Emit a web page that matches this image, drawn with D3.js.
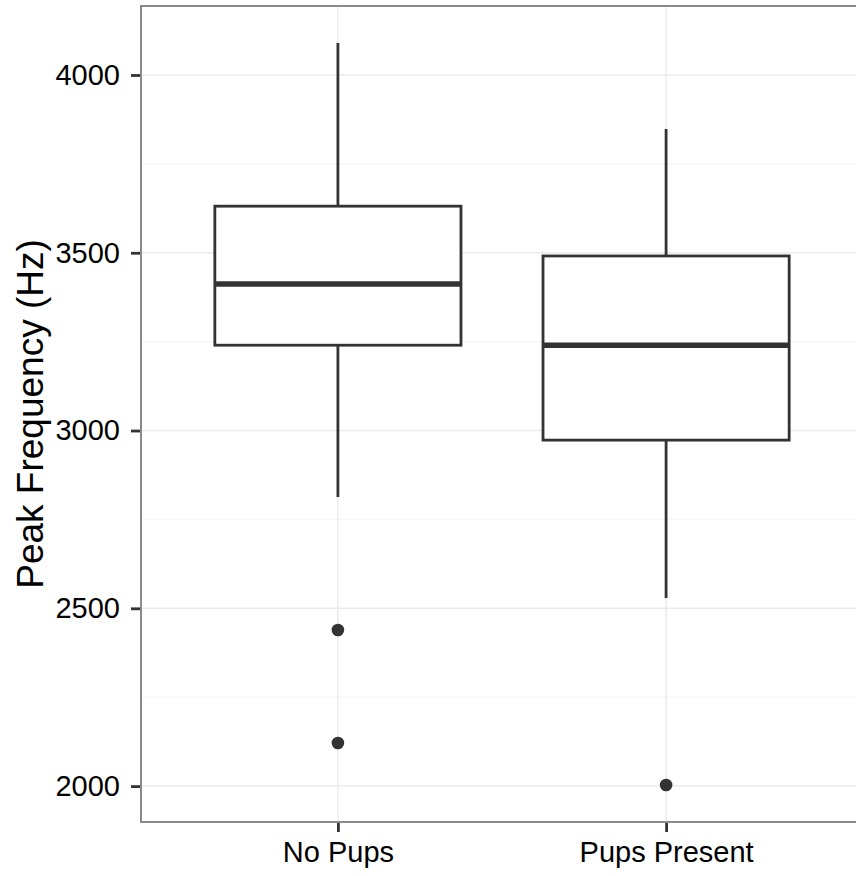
<!DOCTYPE html>
<html>
<head>
<meta charset="utf-8">
<script src="https://cdn.jsdelivr.net/npm/d3@7"></script>
<style>
  body { margin: 0; background: #fff; }
  svg text { font-family: "Liberation Sans", Arial, sans-serif; }
</style>
</head>
<body>
<svg id="chart" width="856" height="876"></svg>
<script>
// Box plot summaries (Hz)
let groups = ["No Pups", "Pups Present"];
let whiskerLow = [2813, 2529];
let q1 = [3240, 2973];
let median = [3412, 3240];
let q3 = [3631, 3491];
let whiskerHigh = [4090, 3848];
let outliers = [[2439, 2121], [2003]];

let yTicks = [2000, 2500, 3000, 3500, 4000];
let yMinor = [2250, 2750, 3250, 3750];

let svg = d3.select("#chart");

let panel = { left: 141, right: 863, top: 6, bottom: 822 };

// discrete axis: groups sit at 1, 2 with 0.6 expansion each side
let x = d3.scaleLinear().domain([0.4, 2.6]).range([panel.left, panel.right]);
let y = d3.scaleLinear().domain([1899, 4194]).range([panel.bottom, panel.top]);
let boxWidth = 0.75;

let g = svg.append("g");

// grid
g.selectAll(".minor").data(yMinor).enter().append("line")
    .attr("x1", panel.left).attr("x2", panel.right)
    .attr("y1", d => y(d)).attr("y2", d => y(d))
    .attr("stroke", "#f5f5f5").attr("stroke-width", 1.2);

g.selectAll(".major").data(yTicks).enter().append("line")
    .attr("x1", panel.left).attr("x2", panel.right)
    .attr("y1", d => y(d)).attr("y2", d => y(d))
    .attr("stroke", "#ebebeb").attr("stroke-width", 1.5);

g.selectAll(".vmajor").data(groups).enter().append("line")
    .attr("x1", (d, i) => x(i + 1)).attr("x2", (d, i) => x(i + 1))
    .attr("y1", panel.top).attr("y2", panel.bottom)
    .attr("stroke", "#ebebeb").attr("stroke-width", 1.5);

// whiskers
g.selectAll(".whiskerUp").data(groups).enter().append("line")
    .attr("x1", (d, i) => x(i + 1)).attr("x2", (d, i) => x(i + 1))
    .attr("y1", (d, i) => y(q3[i])).attr("y2", (d, i) => y(whiskerHigh[i]))
    .attr("stroke", "#333").attr("stroke-width", 2.8);

g.selectAll(".whiskerDown").data(groups).enter().append("line")
    .attr("x1", (d, i) => x(i + 1)).attr("x2", (d, i) => x(i + 1))
    .attr("y1", (d, i) => y(q1[i])).attr("y2", (d, i) => y(whiskerLow[i]))
    .attr("stroke", "#333").attr("stroke-width", 2.8);

// boxes
g.selectAll(".box").data(groups).enter().append("rect")
    .attr("x", (d, i) => x(i + 1 - boxWidth / 2))
    .attr("width", x(1 + boxWidth) - x(1))
    .attr("y", (d, i) => y(q3[i]))
    .attr("height", (d, i) => y(q1[i]) - y(q3[i]))
    .attr("fill", "#fff")
    .attr("stroke", "#333").attr("stroke-width", 2.8);

g.selectAll(".median").data(groups).enter().append("line")
    .attr("x1", (d, i) => x(i + 1 - boxWidth / 2))
    .attr("x2", (d, i) => x(i + 1 + boxWidth / 2))
    .attr("y1", (d, i) => y(median[i])).attr("y2", (d, i) => y(median[i]))
    .attr("stroke", "#333").attr("stroke-width", 5.5);

// outliers
groups.forEach((grp, i) => {
    g.selectAll(".out" + i).data(outliers[i]).enter().append("circle")
        .attr("cx", x(i + 1))
        .attr("cy", d => y(d))
        .attr("r", 6.3)
        .attr("fill", "#333");
});

// panel border
svg.append("rect")
    .attr("x", panel.left).attr("y", panel.top)
    .attr("width", panel.right - panel.left)
    .attr("height", panel.bottom - panel.top)
    .attr("fill", "none")
    .attr("stroke", "#8a8a8a").attr("stroke-width", 2);

// axes
let yAxis = svg.append("g")
    .attr("transform", "translate(" + (panel.left - 1) + ",0)")
    .call(d3.axisLeft(y).tickValues(yTicks).tickFormat(d3.format("d")).tickSize(9).tickPadding(11));

let xAxis = svg.append("g")
    .attr("transform", "translate(0," + (panel.bottom + 1) + ")")
    .call(d3.axisBottom(x).tickValues([1, 2]).tickFormat(d => groups[d - 1]).tickSize(9).tickPadding(9));

[yAxis, xAxis].forEach(a => {
    a.select(".domain").remove();
    a.selectAll(".tick line").attr("stroke", "#333").attr("stroke-width", 2.8);
    a.selectAll(".tick text").attr("fill", "#000").style("font-size", "29px");
});

svg.append("text")
    .attr("transform", "translate(43," + ((panel.top + panel.bottom) / 2) + ") rotate(-90)")
    .attr("text-anchor", "middle")
    .style("font-size", "37px")
    .attr("fill", "#000")
    .text("Peak Frequency (Hz)");
</script>
</body>
</html>
